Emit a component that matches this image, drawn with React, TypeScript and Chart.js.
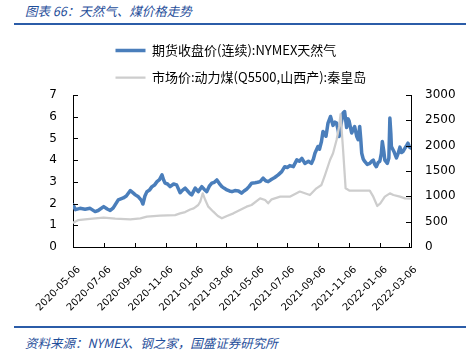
import React, { useEffect, useRef } from 'react';
import { Chart, registerables } from 'chart.js';

Chart.register(...registerables);

// Day offsets counted from 2020-05-06
const GAS_DAYS = [
  0, 5, 14, 24, 34, 44, 50, 61, 68, 74, 80, 90, 100, 106, 114, 120, 124, 130, 136, 139,
  143, 147, 152, 157, 162, 167, 172, 177, 180, 183, 188, 193, 200, 206, 213, 218, 223, 228, 233, 236,
  243, 249, 256, 261, 266, 271, 276, 281, 286, 291, 296, 301, 306, 311, 316, 322, 329, 335, 340, 345,
  350, 355, 362, 367, 372, 378, 383, 388, 395, 401, 408, 415, 421, 426, 431, 438, 445, 450, 455, 461,
  468, 474, 478, 481, 487, 490, 494, 497, 503, 507, 512, 517, 521, 524, 527, 529, 532, 537, 540, 544,
  547, 549, 554, 557, 560, 564, 567, 570, 572, 574, 577, 580, 585, 590, 594, 597, 600, 603, 607, 610,
  613, 615, 618, 620, 625, 628, 630, 632, 633, 638, 643, 647, 650, 653, 656, 660, 664, 666, 669, 672,
];
const GAS_PRICES = [
  1.94, 1.72, 1.78, 1.74, 1.78, 1.63, 1.68, 1.86, 1.75, 1.68, 1.8, 2.17, 2.26, 2.35, 2.6, 2.48, 2.4, 2.31, 2.15, 1.98,
  2.35, 2.55, 2.62, 2.78, 2.85, 3.01, 3.1, 3.32, 3.1, 2.94, 2.9, 2.78, 2.9, 2.86, 2.5, 2.62, 2.71, 2.58, 2.45, 2.4,
  2.71, 2.55, 2.78, 2.65, 2.55, 2.8, 2.94, 2.98, 3.09, 2.92, 2.78, 2.7, 2.63, 2.58, 2.55, 2.6, 2.58, 2.48, 2.58, 2.66,
  2.78, 2.94, 2.96, 2.98, 3.01, 3.17, 3.05, 3.01, 3.12, 3.2, 3.32, 3.47, 3.7, 3.66, 3.75, 3.7, 4.01, 3.95, 4.08, 3.85,
  3.95, 3.85, 4.05, 4.32, 4.63, 4.5, 4.86, 5.32, 5.1, 5.71, 6.01, 5.6, 5.75, 5.71, 5.4, 5.09, 5.55, 6.17, 6.24, 5.5,
  5.9, 5.8, 5.25, 5.4, 5.55, 5.1, 4.94, 5.55, 5.0, 4.32, 4.05, 3.94, 3.8, 3.85, 3.95, 4.0, 3.8, 3.7, 3.9, 3.95,
  4.3, 4.86, 4.4, 4.0, 3.85, 4.1, 5.94, 5.2, 4.63, 4.4, 4.1, 4.35, 4.6, 4.35, 4.4, 4.55, 4.7, 4.78, 4.6, 4.55,
];

const COAL_DAYS = [
  0, 10, 24, 44, 61, 84, 114, 134, 147, 173, 203, 213, 223, 233, 240, 249, 253, 258, 263, 269,
  279, 288, 296, 306, 319, 332, 345, 355, 372, 382, 388, 395, 412, 431, 451, 471, 484, 494, 501, 511,
  517, 524, 529, 532, 537, 542, 550, 570, 590, 597, 605, 611, 620, 630, 637, 650, 660, 672,
];
const COAL_PRICES = [
  480, 530, 547, 566, 579, 562, 547, 566, 598, 618, 630, 664, 690, 740, 763, 829, 895, 1060, 927, 796,
  697, 612, 566, 612, 664, 730, 796, 829, 960, 927, 862, 941, 993, 993, 1095, 1026, 1158, 1224, 1421, 1717,
  1849, 2112, 2375, 2620, 1914, 1158, 1112, 1112, 1112, 993, 809, 862, 993, 1059, 1026, 993, 960, 955,
];

const TICK_DAYS = [0, 61, 123, 184, 245, 304, 365, 426, 488, 549, 610, 669];
const TICK_LABELS = [
  '2020-05-06', '2020-07-06', '2020-09-06', '2020-11-06', '2021-01-06', '2021-03-06',
  '2021-05-06', '2021-07-06', '2021-09-06', '2021-11-06', '2022-01-06', '2022-03-06',
];

const GAS_LABEL = '期货收盘价(连续):NYMEX天然气';
const COAL_LABEL = '市场价:动力煤(Q5500,山西产):秦皇岛';
const TITLE = '图表 66：天然气、煤价格走势';
const SOURCE = '资料来源：NYMEX、钢之家，国盛证券研究所';

const BLUE = '#4A7EBB';
const GRAY = '#CDCDCD';
const TEXT_BLUE = '#1F4E9A';
const RULE_BLUE = '#2B5CA8';

const TICK_FONT = { family: "'DejaVu Sans', sans-serif", size: 12 };

const legendFix = {
  id: 'legendFix',
  beforeInit(chart: any) {
    const orig = chart.legend.fit;
    chart.legend.fit = function () {
      orig.call(this);
      this.height = 65;
    };
  },
  afterLayout(chart: any) {
    chart.legend.left = 101.5;
  },
};

const innerTicks = {
  id: 'innerTicks',
  afterDatasetsDraw(chart: any) {
    const { ctx, chartArea } = chart;
    const { left, right, bottom } = chartArea;
    const sx = chart.scales.x;
    const sy = chart.scales.y;
    const sy1 = chart.scales.y1;
    ctx.save();
    ctx.strokeStyle = '#000';
    ctx.lineWidth = 1;
    ctx.beginPath();
    sy.ticks.forEach((t: any) => {
      const p = Math.round(sy.getPixelForValue(t.value)) + 0.5;
      ctx.moveTo(left, p);
      ctx.lineTo(left + 5, p);
    });
    sy1.ticks.forEach((t: any) => {
      const p = Math.round(sy1.getPixelForValue(t.value)) + 0.5;
      ctx.moveTo(right, p);
      ctx.lineTo(right - 5, p);
    });
    sx.ticks.forEach((t: any) => {
      const p = Math.round(sx.getPixelForValue(t.value)) + 0.5;
      ctx.moveTo(p, bottom);
      ctx.lineTo(p, bottom - 4);
    });
    ctx.stroke();
    ctx.restore();
  },
};

export default function App() {
  const ref = useRef<HTMLCanvasElement>(null);

  useEffect(() => {
    const canvas = ref.current;
    if (!canvas) return;
    const chart = new Chart(canvas, {
      type: 'line',
      data: {
        datasets: [
          {
            label: GAS_LABEL,
            data: GAS_DAYS.map((d, i) => ({ x: d, y: GAS_PRICES[i] })),
            yAxisID: 'y',
            borderColor: BLUE,
            backgroundColor: BLUE,
            borderWidth: 3.5,
            pointBorderWidth: 3.5,
            pointBorderColor: BLUE,
            pointRadius: 0,
            tension: 0,
            borderJoinStyle: 'round',
            borderCapStyle: 'round',
            order: 1,
          },
          {
            label: COAL_LABEL,
            data: COAL_DAYS.map((d, i) => ({ x: d, y: COAL_PRICES[i] })),
            yAxisID: 'y1',
            borderColor: GRAY,
            backgroundColor: GRAY,
            borderWidth: 2.25,
            pointBorderWidth: 2.25,
            pointBorderColor: GRAY,
            pointRadius: 0,
            tension: 0,
            borderJoinStyle: 'round',
            borderCapStyle: 'round',
            order: 0,
          },
        ],
      },
      options: {
        responsive: false,
        animation: false,
        layout: { padding: 0 },
        plugins: {
          legend: {
            position: 'top',
            align: 'start',
            labels: {
              usePointStyle: true,
              pointStyle: 'line',
              pointStyleWidth: 30,
              padding: 14,
              color: '#000',
              font: { family: "'Noto Sans CJK SC', sans-serif", size: 13 },
              sort: (a: any, b: any) => a.datasetIndex - b.datasetIndex,
            },
          },
          tooltip: { enabled: false },
        },
        scales: {
          x: {
            type: 'linear',
            min: 0,
            max: 672,
            grid: { display: false, drawTicks: false },
            border: { display: true, color: '#000', width: 1 },
            afterBuildTicks: (scale: any) => {
              scale.ticks = TICK_DAYS.map((v) => ({ value: v }));
            },
            afterFit: (scale: any) => {
              scale.height = 73;
            },
            ticks: {
              autoSkip: false,
              minRotation: 45,
              maxRotation: 45,
              padding: 17,
              labelOffset: 6,
              color: '#000',
              font: { family: "'DejaVu Sans', sans-serif", size: 10 },
              callback: (_v: any, i: number) => TICK_LABELS[i],
            },
          },
          y: {
            position: 'left',
            min: 0,
            max: 7,
            grid: { display: false, drawTicks: false },
            border: { display: true, color: '#000', width: 1 },
            afterFit: (scale: any) => {
              scale.width = 73;
            },
            ticks: { stepSize: 1, padding: 16, color: '#000', font: TICK_FONT },
          },
          y1: {
            position: 'right',
            min: 0,
            max: 3000,
            grid: { display: false, drawTicks: false },
            border: { display: true, color: '#000', width: 1 },
            afterFit: (scale: any) => {
              scale.width = 59;
            },
            ticks: {
              stepSize: 500,
              padding: 14,
              color: '#000',
              font: TICK_FONT,
              callback: (v: any) => String(v),
            },
          },
        },
      },
      plugins: [legendFix, innerTicks],
    } as any);
    return () => chart.destroy();
  }, []);

  const cjk = "'Noto Sans CJK SC', sans-serif";

  return (
    <div
      style={{
        position: 'absolute',
        left: 0,
        top: 0,
        width: 470,
        height: 351,
        background: '#fff',
        overflow: 'hidden',
      }}
    >
      <div
        style={{
          position: 'absolute',
          left: 25,
          top: 2,
          fontFamily: cjk,
          fontSize: 12.5,
          fontStyle: 'italic',
          color: TEXT_BLUE,
          whiteSpace: 'nowrap',
          lineHeight: '18px',
        }}
      >
        {TITLE}
      </div>
      <div style={{ position: 'absolute', left: 14, top: 23, width: 452, height: 2, background: RULE_BLUE }} />
      <div style={{ position: 'absolute', left: 0, top: 30, width: 470, height: 290 }}>
        <canvas ref={ref} width={470} height={290} style={{ width: 470, height: 290, display: 'block' }} />
      </div>
      <div style={{ position: 'absolute', left: 14, top: 326, width: 452, height: 2, background: RULE_BLUE }} />
      <div
        style={{
          position: 'absolute',
          left: 25,
          top: 334,
          fontFamily: cjk,
          fontSize: 12.5,
          fontStyle: 'italic',
          color: TEXT_BLUE,
          whiteSpace: 'nowrap',
          lineHeight: '18px',
        }}
      >
        {SOURCE}
      </div>
    </div>
  );
}
